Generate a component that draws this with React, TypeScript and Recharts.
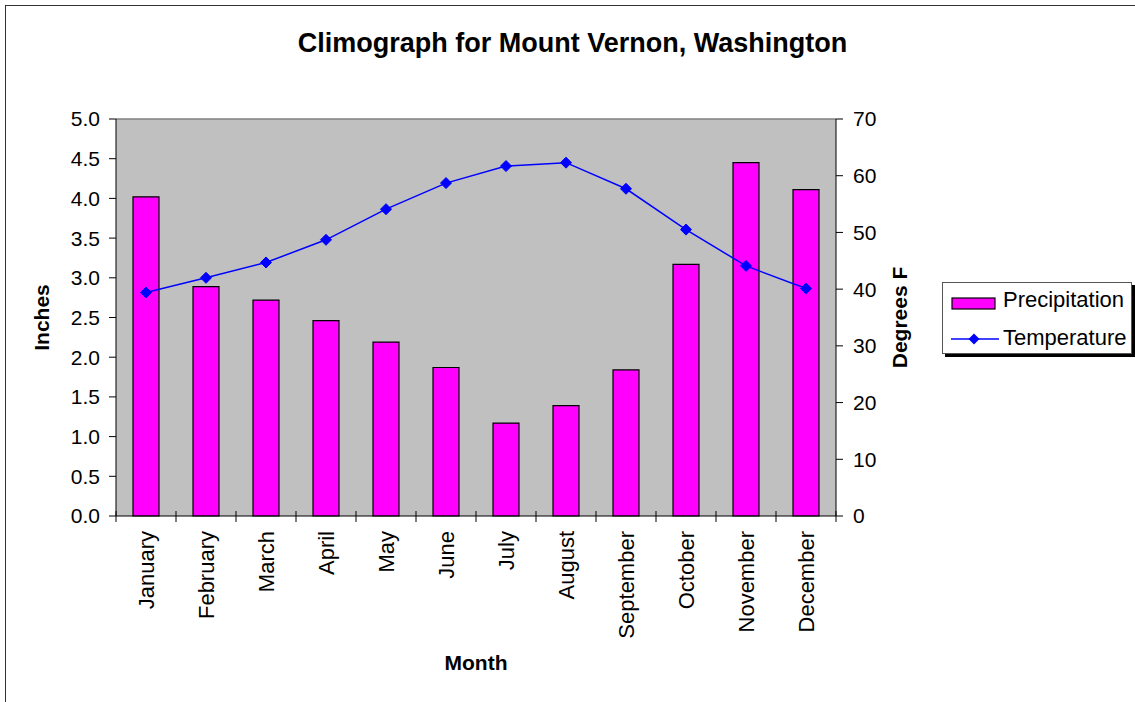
import React from 'react';
import {
  ComposedChart,
  Bar,
  Line,
  XAxis,
  YAxis,
  CartesianGrid,
  ReferenceLine,
  Legend,
} from 'recharts';

const months = [
  'January', 'February', 'March', 'April', 'May', 'June',
  'July', 'August', 'September', 'October', 'November', 'December',
];
const precipitation = [4.02, 2.89, 2.72, 2.46, 2.19, 1.87, 1.17, 1.39, 1.84, 3.17, 4.45, 4.11];
const temperature = [39.4, 42.0, 44.7, 48.7, 54.1, 58.7, 61.7, 62.3, 57.7, 50.5, 44.1, 40.1];
const inchTicks = [0, 0.5, 1, 1.5, 2, 2.5, 3, 3.5, 4, 4.5, 5];
const degreeTicks = [0, 10, 20, 30, 40, 50, 60, 70];

const data = months.map((month, i) => ({
  month,
  precipitation: precipitation[i],
  temperature: temperature[i],
}));

const FONT = "'Liberation Sans', Arial, sans-serif";
const PLOT_W = 720;
const BAND = PLOT_W / months.length;

const MonthTick = (props: any) => {
  const { x, y, payload, index } = props;
  const left = x - BAND / 2;
  const right = x + BAND / 2;
  return (
    <g>
      <line x1={left} x2={left} y1={y - 5} y2={y + 6} stroke="#000" />
      {index === months.length - 1 && (
        <line x1={right} x2={right} y1={y - 5} y2={y + 6} stroke="#000" />
      )}
      <text
        x={x}
        y={y + 15}
        transform={`rotate(-90, ${x}, ${y + 15})`}
        textAnchor="end"
        dominantBaseline="central"
        fontSize={22}
        fontFamily={FONT}
        fill="#000"
      >
        {payload.value}
      </text>
    </g>
  );
};

const Diamond = (props: any) => {
  const { cx, cy, index } = props;
  if (cx == null || cy == null) return <g key={index} />;
  const r = 5.5;
  return (
    <path
      key={index}
      d={`M${cx},${cy - r}L${cx + r},${cy}L${cx},${cy + r}L${cx - r},${cy}Z`}
      fill="#0000ff"
      stroke="#0000ff"
    />
  );
};

const renderLegend = () => (
  <div
    style={{
      width: 188,
      height: 70,
      background: '#fff',
      border: '1px solid #555',
      boxShadow: '3px 3px 0 #000',
      fontFamily: FONT,
      fontSize: 22,
      color: '#000',
      position: 'relative',
    }}
  >
    <svg width={50} height={70} style={{ position: 'absolute', left: 7, top: 0 }}>
      <rect x={2} y={15} width={43} height={11} fill="#ff00ff" stroke="#000" strokeWidth={1.2} />
      <line x1={1} x2={49} y1={56} y2={56} stroke="#0000ff" strokeWidth={1.5} />
      <path d="M24,50.5L29.5,56L24,61.5L18.5,56Z" fill="#0000ff" />
    </svg>
    <div style={{ position: 'absolute', left: 60, top: 5, lineHeight: '24px' }}>Precipitation</div>
    <div style={{ position: 'absolute', left: 60, top: 43, lineHeight: '24px' }}>Temperature</div>
  </div>
);

export default function App() {
  return (
    <div
      style={{
        position: 'absolute',
        left: 0,
        top: 0,
        width: 1135,
        height: 702,
        overflow: 'hidden',
        background: '#fff',
        fontFamily: FONT,
      }}
    >
      <div
        style={{
          position: 'absolute',
          left: 5,
          top: 5,
          width: 1160,
          height: 720,
          borderLeft: '1.5px solid #333',
          borderTop: '1.5px solid #333',
        }}
      />
      <div
        style={{
          position: 'absolute',
          left: 0,
          top: 30,
          width: 1145,
          textAlign: 'center',
          fontSize: 27,
          fontWeight: 'bold',
          lineHeight: '27px',
          color: '#000',
        }}
      >
        Climograph for Mount Vernon, Washington
      </div>
      <div style={{ position: 'absolute', left: 0, top: 0 }}>
        <ComposedChart
          width={1135}
          height={702}
          data={data}
          margin={{ top: 119, left: 26, right: 219, bottom: 26 }}
        >
          <CartesianGrid
            yAxisId="left"
            horizontal={false}
            vertical={false}
            fill="#c0c0c0"
            fillOpacity={1}
          />
          <XAxis
            dataKey="month"
            height={160}
            interval={0}
            tickLine={false}
            tickSize={0}
            tickMargin={0}
            axisLine={{ stroke: '#000' }}
            tick={<MonthTick />}
            label={{
              value: 'Month',
              position: 'insideBottom',
              offset: 6,
              fontSize: 21,
              fontWeight: 'bold',
              fill: '#000',
              fontFamily: FONT,
            }}
          />
          <YAxis
            yAxisId="left"
            width={90}
            domain={[0, 5]}
            ticks={inchTicks}
            interval={0}
            tickFormatter={(v: number) => v.toFixed(1)}
            tickSize={7}
            tickMargin={9}
            axisLine={{ stroke: '#000' }}
            tickLine={{ stroke: '#000' }}
            tick={{ fontSize: 21, fill: '#000', fontFamily: FONT }}
            label={{
              value: 'Inches',
              angle: -90,
              position: 'insideLeft',
              offset: 16,
              fontSize: 21,
              fontWeight: 'bold',
              fill: '#000',
              fontFamily: FONT,
              style: { textAnchor: 'middle' },
            }}
          />
          <YAxis
            yAxisId="right"
            orientation="right"
            width={80}
            domain={[0, 70]}
            ticks={degreeTicks}
            interval={0}
            tickSize={7}
            tickMargin={10}
            axisLine={{ stroke: '#000' }}
            tickLine={{ stroke: '#000' }}
            tick={{ fontSize: 21, fill: '#000', fontFamily: FONT }}
            label={{
              value: 'Degrees F',
              angle: -90,
              position: 'insideRight',
              offset: 16,
              fontSize: 21,
              fontWeight: 'bold',
              fill: '#000',
              fontFamily: FONT,
              style: { textAnchor: 'middle' },
            }}
          />
          <ReferenceLine yAxisId="left" y={5} stroke="#808080" strokeWidth={1.5} />
          <Bar
            yAxisId="left"
            dataKey="precipitation"
            name="Precipitation"
            barSize={26}
            fill="#ff00ff"
            stroke="#000"
            strokeWidth={1.2}
            isAnimationActive={false}
          />
          <Line
            yAxisId="right"
            dataKey="temperature"
            name="Temperature"
            type="linear"
            stroke="#0000ff"
            strokeWidth={1.5}
            dot={Diamond}
            activeDot={false}
            isAnimationActive={false}
          />
          <Legend
            layout="vertical"
            align="center"
            verticalAlign="middle"
            content={renderLegend}
            wrapperStyle={{ left: 942, top: 282, right: 'auto', bottom: 'auto', width: 'auto' }}
          />
        </ComposedChart>
      </div>
    </div>
  );
}
